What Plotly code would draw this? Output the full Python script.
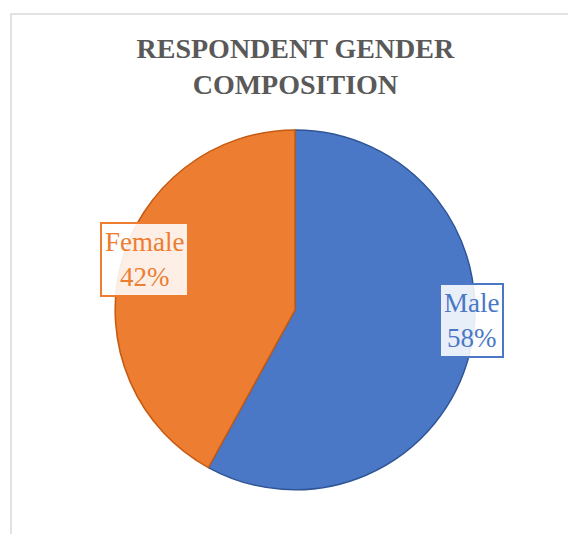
import plotly.graph_objects as go

labels = ["Male", "Female"]
values = [58, 42]
colors = ["#4A78C6", "#ED7D31"]
edge_colors = ["#2F5597", "#C55A11"]
title_text = "RESPONDENT GENDER<br>COMPOSITION"

fig = go.Figure()
fig.add_trace(go.Pie(
    labels=labels, values=values, sort=False, direction="clockwise", rotation=0,
    marker=dict(colors=colors, line=dict(color=edge_colors, width=1.5)),
    textinfo="none", hoverinfo="label+percent", showlegend=False,
    domain=dict(x=[0.187, 0.833], y=[0.085, 0.777]),
))

total = sum(values)
label_pos = [(0.826, 0.41), (0.239, 0.527)]
for lab, val, col, (px, py) in zip(labels, values, colors, label_pos):
    fig.add_annotation(
        x=px, y=py, xref="paper", yref="paper", xanchor="center", yanchor="middle",
        text=f"{lab}<br>{round(100*val/total)}%", showarrow=False,
        font=dict(family="Liberation Serif", size=27, color=col),
        bgcolor="rgba(255,255,255,0.88)", bordercolor=col, borderwidth=2, borderpad=3,
    )

fig.add_shape(type="rect", xref="paper", yref="paper", x0=0, x1=1.05, y0=-0.05, y1=1,
              line=dict(color="#D9D9D9", width=1.5), layer="below")

fig.update_layout(
    width=568, height=534, margin=dict(l=11, r=0, t=14, b=0),
    paper_bgcolor="white", plot_bgcolor="white",
    title=dict(text=title_text, x=0.52, xanchor="center", y=0.892, yanchor="middle",
               font=dict(family="Liberation Serif", size=28, color="#595959", weight="bold")),
)

fig.write_html("out.html")
